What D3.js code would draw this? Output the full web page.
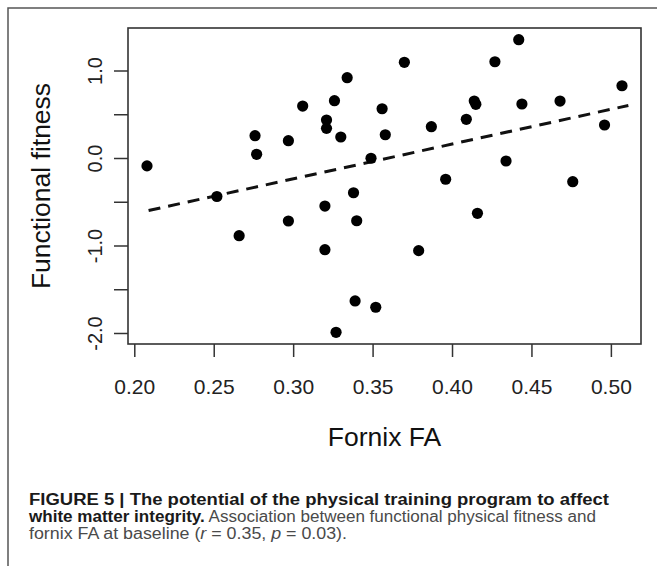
<!DOCTYPE html>
<html lang="en">
<head>
    <meta charset="UTF-8">
    <title>Fornix FA vs functional fitness</title>
    <script src="https://cdn.jsdelivr.net/npm/d3@7/dist/d3.min.js"></script>
    <style>
        body{ margin:0; background:#fff; }
        .axis text{ font-family: "Liberation Sans", Arial, sans-serif; fill:#222; }
        .axis line{ stroke:#333; stroke-width:1.5px; }
        .caption{ font-family: "Liberation Sans", Arial, sans-serif; font-size:16px; fill:#4a4a4a; }
        .caption .b{ font-weight:bold; fill:#1a1a1a; }
    </style>
</head>
<body>
<svg id="main" width="657" height="566"></svg>
<script>
    // values
    let fornixFA = [0.208,0.252,0.276,0.277,0.297,0.306,0.321,0.321,0.326,0.334,0.330,0.370,0.356,
        0.358,0.349,0.338,0.396,0.387,0.409,0.414,0.415,0.427,0.442,0.444,0.434,0.468,0.476,0.496,
        0.507,0.266,0.297,0.320,0.320,0.340,0.379,0.416,0.339,0.352,0.327];
    let fitness = [-0.09,-0.44,0.255,0.042,0.198,0.594,0.434,0.339,0.655,0.918,0.24,1.094,0.563,
        0.266,-0.003,-0.397,-0.243,0.358,0.442,0.651,0.614,1.10,1.352,0.617,-0.034,0.651,-0.271,0.377,
        0.826,-0.888,-0.72,-0.549,-1.048,-0.717,-1.059,-0.632,-1.634,-1.706,-1.992];
    // dashed regression line, end points
    let fitX = [0.209, 0.511];
    let fitY = [-0.60, 0.60];
    let xTicks = [0.20,0.25,0.30,0.35,0.40,0.45,0.50];
    let yTicks = [-2.0,-1.5,-1.0,-0.5,0.0,0.5,1.0];
    let yLabels = [-2.0,-1.0,0.0,1.0];

    let svg = d3.select('svg#main');
    let box = {left:128, right:641, top:28, bottom:344};

    // outer figure frame (top and left edges visible)
    svg.append('path')
        .attr('d', 'M8,566V8H657')
        .attr('fill','none').attr('stroke','#555').attr('stroke-width',1.5);

    // R style: data range padded by 4%
    function pad(ext){ let d = (ext[1]-ext[0])*0.04; return [ext[0]-d, ext[1]+d]; }
    let xScale = d3.scaleLinear().domain(pad(d3.extent(fornixFA))).range([box.left, box.right]);
    let yScale = d3.scaleLinear().domain(pad(d3.extent(fitness))).range([box.bottom, box.top]);

    // x axis
    let xAxis = svg.append('g').attr('class','axis')
        .attr('transform','translate(0,'+box.bottom+')')
        .call(d3.axisBottom(xScale).tickValues(xTicks).tickSize(13)
            .tickFormat(function(d){ return d.toFixed(2); }));
    xAxis.select('.domain').remove();
    xAxis.selectAll('text').attr('y',50).attr('dy',0).style('font-size','21px');

    // y axis, labels rotated, plain hyphen for minus like R
    let yAxis = svg.append('g').attr('class','axis')
        .attr('transform','translate('+box.left+',0)')
        .call(d3.axisLeft(yScale).tickValues(yTicks).tickSize(14)
            .tickFormat(function(d){ return yLabels.includes(d) ? d.toFixed(1) : ''; }));
    yAxis.select('.domain').remove();
    yAxis.selectAll('text')
        .attr('x',0).attr('dy',0)
        .attr('text-anchor','middle')
        .attr('transform','translate(-26.5,0) rotate(-90)')
        .style('font-size','20px');

    // plot box
    svg.append('rect')
        .attr('x',box.left).attr('y',box.top)
        .attr('width',box.right-box.left).attr('height',box.bottom-box.top)
        .attr('fill','none').attr('stroke','#333').attr('stroke-width',1.6);

    // regression line
    let line = d3.line().x(function(d){return xScale(d[0])}).y(function(d){return yScale(d[1])});
    svg.append('path')
        .attr('d', line(d3.zip(fitX, fitY)))
        .attr('fill','none').attr('stroke','#111').attr('stroke-width',3)
        .attr('stroke-dasharray','12,8');

    // points
    svg.append('g').selectAll('circle')
        .data(d3.zip(fornixFA, fitness))
        .join('circle')
        .attr('cx', function(d){return xScale(d[0])})
        .attr('cy', function(d){return yScale(d[1])})
        .attr('r', 5.6)
        .attr('fill','#000');

    // axis titles
    svg.append('text')
        .attr('x', (box.left+box.right)/2).attr('y', 446)
        .attr('text-anchor','middle')
        .style('font-family','"Liberation Sans", Arial, sans-serif').style('font-size','26.5px').style('fill','#111')
        .text('Fornix FA');
    svg.append('text')
        .attr('transform','translate(50,186) rotate(-90)')
        .attr('text-anchor','middle')
        .style('font-family','"Liberation Sans", Arial, sans-serif').style('font-size','26.5px').style('fill','#111')
        .text('Functional fitness');

    // caption
    let cap = svg.append('g').attr('class','caption');
    let l1 = cap.append('text').attr('x',29).attr('y',505).attr('textLength',580).attr('lengthAdjust','spacingAndGlyphs');
    l1.append('tspan').attr('class','b').text('FIGURE 5 | The potential of the physical training program to affect');
    let l2 = cap.append('text').attr('x',29).attr('y',522).attr('textLength',567).attr('lengthAdjust','spacingAndGlyphs');
    l2.append('tspan').attr('class','b').text('white matter integrity.');
    l2.append('tspan').text(' Association between functional physical fitness and');
    let l3 = cap.append('text').attr('x',29).attr('y',539).attr('textLength',318).attr('lengthAdjust','spacingAndGlyphs');
    l3.append('tspan').text('fornix FA at baseline (');
    l3.append('tspan').style('font-style','italic').text('r');
    l3.append('tspan').text(' = 0.35, ');
    l3.append('tspan').style('font-style','italic').text('p');
    l3.append('tspan').text(' = 0.03).');
</script>
</body>
</html>
